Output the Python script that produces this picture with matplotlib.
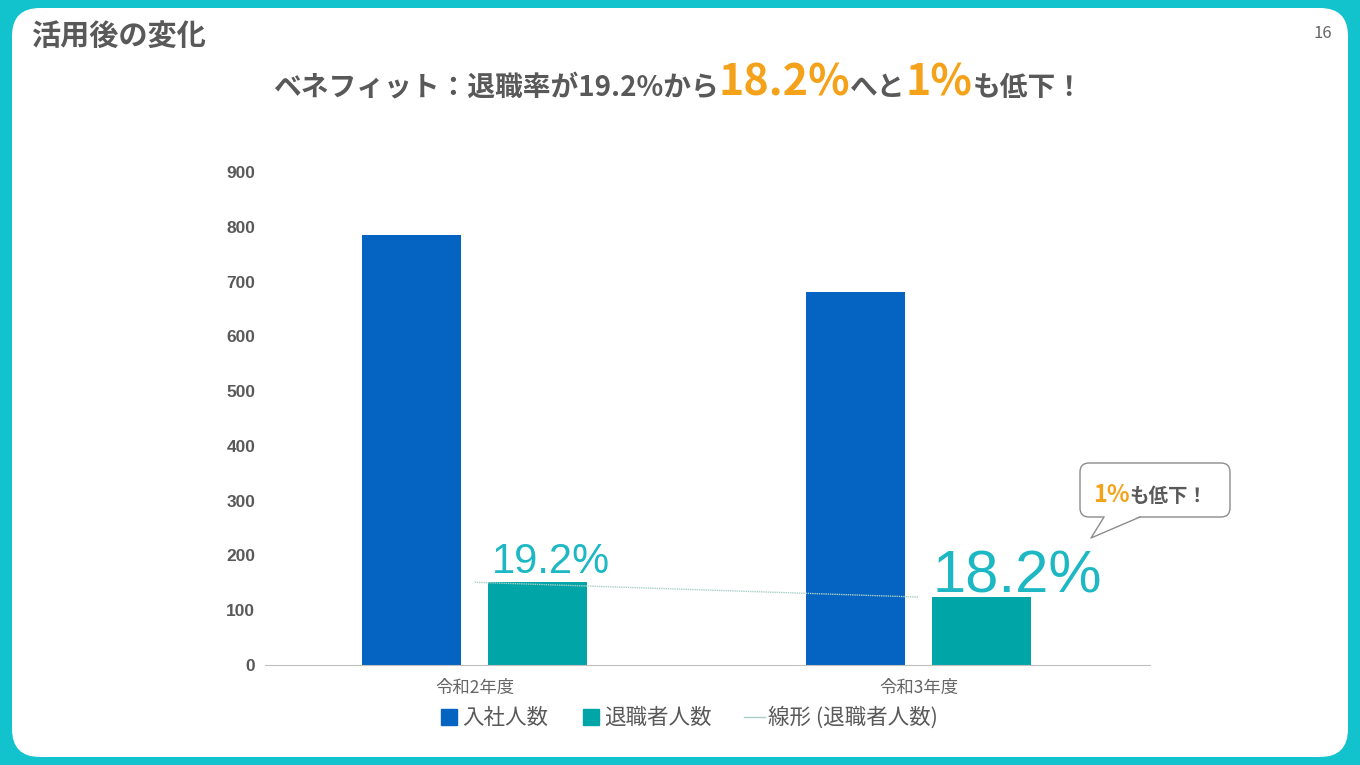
import matplotlib
matplotlib.use("Agg")
import matplotlib.pyplot as plt
from matplotlib.patches import FancyBboxPatch, Polygon
from matplotlib.lines import Line2D
from matplotlib.transforms import IdentityTransform
import numpy as np

plt.rcParams['font.family'] = ['Noto Sans CJK JP', 'DejaVu Sans']

# data
years = ["令和2年度", "令和3年度"]
hires = [785, 681]
leavers = [151, 124]
rate_labels = ["19.2%", "18.2%"]
series_names = ["入社人数", "退職者人数", "線形 (退職者人数)"]

blue = "#0563C1"
teal = "#00A5A8"
label_teal = "#1DB8C3"
orange = "#F5A21B"
grey = "#595959"
frame = "#12C2CD"

W, H = 1360, 765
fig = plt.figure(figsize=(W / 100, H / 100), dpi=100)
fig.patch.set_facecolor(frame)
px = IdentityTransform()

# white slide card
card = FancyBboxPatch((12, H - 757), 1336, 749, boxstyle="round,pad=0,rounding_size=28",
                      transform=px, facecolor="white", edgecolor="none", zorder=-10)
fig.add_artist(card)

ax = fig.add_axes([265 / W, 1 - 665 / H, 885 / W, (665 - 172) / H])
ax.set_facecolor("none")

x = np.arange(len(years))
bw = 0.223
off = 0.142
ax.bar(x - off, hires, width=bw, color=blue, zorder=2)
ax.bar(x + off, leavers, width=bw, color=teal, zorder=2)

# linear trend of leavers
coef = np.polyfit(x, leavers, 1)
ax.plot(x, np.polyval(coef, x), color="#A9CFC8", lw=1.0, ls=(0, (1, 0.6)), zorder=3)

# rate labels
ax.text(x[0] + off + 0.03, leavers[0] + 17, rate_labels[0], color=label_teal,
        fontsize=30, ha="center", va="baseline", family=["Liberation Sans"])
ax.text(x[1] + off + 0.08, leavers[1] + 9, rate_labels[1], color=label_teal,
        fontsize=43, ha="center", va="baseline", family=["Liberation Sans"])

ax.set_xlim(-0.472, 1.521)
ax.set_ylim(0, 900)
ax.set_yticks(range(0, 901, 100))
ax.set_xticks(x)
ax.set_xticklabels(years, fontsize=12.5, color="#666666")
for lab in ax.get_yticklabels():
  lab.set_fontweight("bold")
  lab.set_fontsize(12.5)
  lab.set_color(grey)
  lab.set_family(["Liberation Sans"])
ax.tick_params(length=0, axis="y", pad=7)
ax.tick_params(length=0, axis="x", pad=10)
for s in ["top", "right", "left"]:
  ax.spines[s].set_visible(False)
ax.spines["bottom"].set_color("#BFBFBF")

handles = [Line2D([], [], marker="s", ls="none", color=blue, markersize=12),
           Line2D([], [], marker="s", ls="none", color=teal, markersize=12),
           Line2D([], [], color="#A9CFC8", lw=1)]
fig.legend(handles, series_names, loc="center", bbox_to_anchor=(688 / W, 1 - 718 / H),
           ncol=3, frameon=False, fontsize=15.5, labelcolor=grey, handlelength=1.0,
           handletextpad=0.1, columnspacing=1.5)

# header and page number
fig.text(32, H - 36, "活用後の変化", transform=px, fontsize=21, fontweight="bold",
         color=grey, va="center", ha="left")
fig.text(1323, H - 33, "16", transform=px, fontsize=12, color="#666666",
         va="center", ha="center")


def rich(pieces, xc, ybase):
  r = fig.canvas.get_renderer()
  texts = []
  for s, size, color in pieces:
    t = fig.text(0, H - ybase, s, transform=px, fontsize=size, color=color,
                 fontweight="bold", va="baseline", ha="left", zorder=6)
    texts.append(t)
  widths = [t.get_window_extent(r).width for t in texts]
  xp = xc - sum(widths) / 2
  for t, w in zip(texts, widths):
    t.set_x(xp)
    xp += w


rich([("ベネフィット：退職率が19.2%から", 20, grey), ("18.2%", 31, orange),
      ("へと", 20, grey), ("1%", 31, orange), ("も低下！", 20, grey)], 678, 96)

# callout bubble
bubble = FancyBboxPatch((1080, H - 517), 150, 54, boxstyle="round,pad=0,rounding_size=9",
                        transform=px, facecolor="white", edgecolor="#8C8C8C", lw=1.0, zorder=5)
fig.add_artist(bubble)
tail = Polygon([(1104, H - 516), (1091, H - 538), (1140, H - 516)], closed=True,
               transform=px, facecolor="white", edgecolor="none", zorder=5.1)
fig.add_artist(tail)
fig.add_artist(Line2D([1104, 1091, 1140], [H - 517, H - 538, H - 517], transform=px,
                      color="#8C8C8C", lw=1.0, zorder=5.2))
rich([("1%", 17, orange), ("も低下！", 14, grey)], 1150, 502)

fig.savefig("out.png", dpi=100, facecolor=fig.get_facecolor())
